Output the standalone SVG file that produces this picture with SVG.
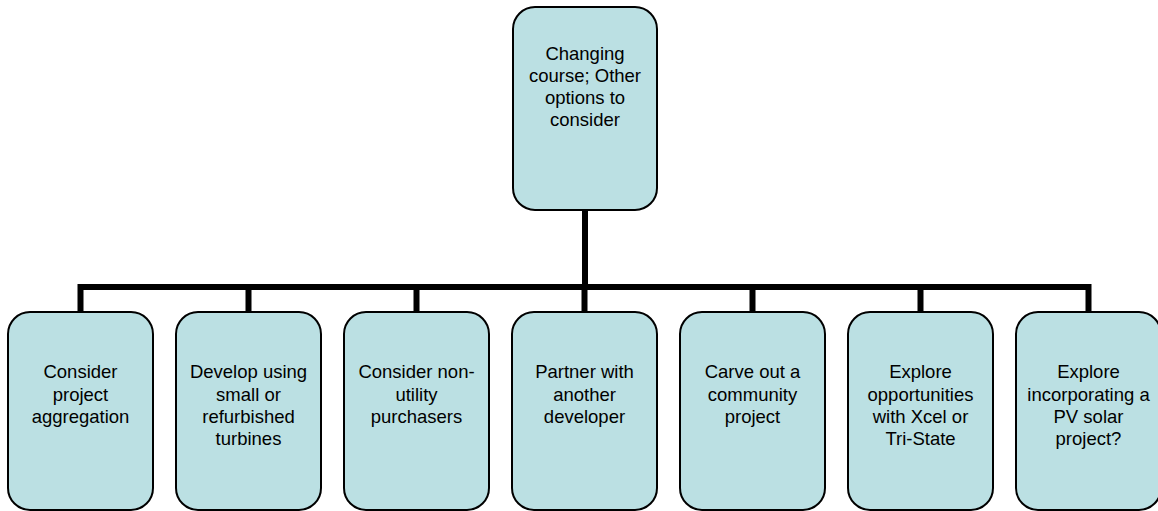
<svg xmlns="http://www.w3.org/2000/svg" width="1158" height="511" viewBox="0 0 1158 511">
<style>
.box{fill:#BBE0E3;stroke:#000;stroke-width:2}
.lbl{font-family:"Liberation Sans",Arial,sans-serif;font-size:18.5px;fill:#000;text-anchor:middle}
.conn{fill:none;stroke:#000;stroke-width:6;stroke-linejoin:miter}
</style>
<rect width="1158" height="511" fill="#fff"/>
<g id="connectors">
<path class="conn" d="M585 210 V287"/>
<path class="conn" d="M80.5 312 V287 H1088.5 V312"/>
<path class="conn" d="M248.5 287 V312 M416.5 287 V312 M584.5 287 V312 M752.5 287 V312 M920.5 287 V312"/>
</g>
<g id="root">
<rect class="box" x="513" y="7" width="144" height="203" rx="22"/>
<text class="lbl" x="585" y="60">Changing</text>
<text class="lbl" x="585" y="82">course; Other</text>
<text class="lbl" x="585" y="104">options to</text>
<text class="lbl" x="585" y="126">consider</text>
</g>
<g id="n1">
<rect class="box" x="8" y="312" width="145" height="198" rx="22"/>
<text class="lbl" x="80.5" y="378">Consider</text>
<text class="lbl" x="80.5" y="400.5">project</text>
<text class="lbl" x="80.5" y="423">aggregation</text>
</g>
<g id="n2">
<rect class="box" x="176" y="312" width="145" height="198" rx="22"/>
<text class="lbl" x="248.5" y="378">Develop using</text>
<text class="lbl" x="248.5" y="400.5">small or</text>
<text class="lbl" x="248.5" y="423">refurbished</text>
<text class="lbl" x="248.5" y="445">turbines</text>
</g>
<g id="n3">
<rect class="box" x="344" y="312" width="145" height="198" rx="22"/>
<text class="lbl" x="416.5" y="378">Consider non-</text>
<text class="lbl" x="416.5" y="400.5">utility</text>
<text class="lbl" x="416.5" y="423">purchasers</text>
</g>
<g id="n4">
<rect class="box" x="512" y="312" width="145" height="198" rx="22"/>
<text class="lbl" x="584.5" y="378">Partner with</text>
<text class="lbl" x="584.5" y="400.5">another</text>
<text class="lbl" x="584.5" y="423">developer</text>
</g>
<g id="n5">
<rect class="box" x="680" y="312" width="145" height="198" rx="22"/>
<text class="lbl" x="752.5" y="378">Carve out a</text>
<text class="lbl" x="752.5" y="400.5">community</text>
<text class="lbl" x="752.5" y="423">project</text>
</g>
<g id="n6">
<rect class="box" x="848" y="312" width="145" height="198" rx="22"/>
<text class="lbl" x="920.5" y="378">Explore</text>
<text class="lbl" x="920.5" y="400.5">opportunities</text>
<text class="lbl" x="920.5" y="423">with Xcel or</text>
<text class="lbl" x="920.5" y="445">Tri-State</text>
</g>
<g id="n7">
<rect class="box" x="1016" y="312" width="145" height="198" rx="22"/>
<text class="lbl" x="1088.5" y="378">Explore</text>
<text class="lbl" x="1088.5" y="400.5">incorporating a</text>
<text class="lbl" x="1088.5" y="423">PV solar</text>
<text class="lbl" x="1088.5" y="445">project?</text>
</g>
</svg>
